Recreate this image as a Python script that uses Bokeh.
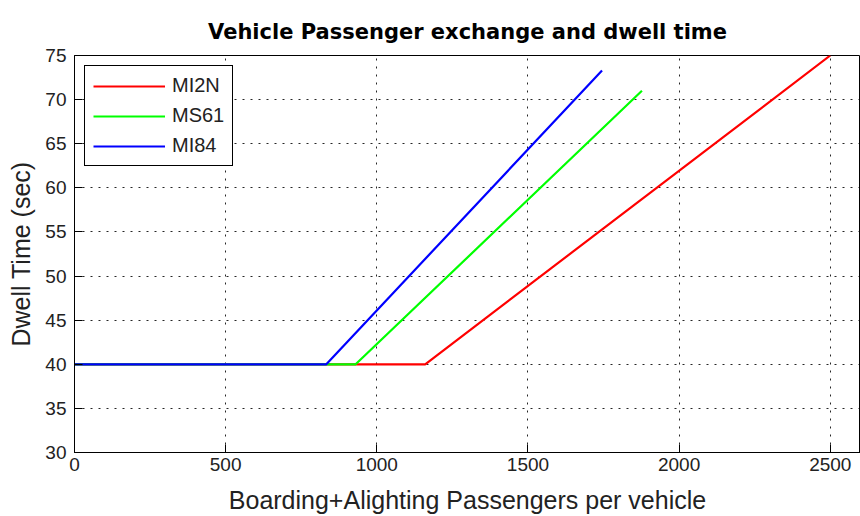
from bokeh.plotting import figure
from bokeh.models import Range1d, Legend, LegendItem, FixedTicker
from bokeh.embed import file_html
from bokeh.resources import INLINE

# Data
mi2n_x = [0, 1160, 2500]
mi2n_y = [40, 40, 75.0]
ms61_x = [0, 930, 1877]
ms61_y = [40, 40, 71.0]
mi84_x = [0, 833, 1745]
mi84_y = [40, 40, 73.3]

x_ticks = [0, 500, 1000, 1500, 2000, 2500]
y_ticks = [30, 35, 40, 45, 50, 55, 60, 65, 70, 75]

FONT = "Liberation Sans"

p = figure(width=860, height=516, output_backend="svg", toolbar_location=None,
           x_range=Range1d(0, 2600), y_range=Range1d(30, 75),
           min_border_left=74, min_border_right=0, min_border_top=55, min_border_bottom=61,
           title="Vehicle Passenger exchange and dwell time")

p.title.text_font = "DejaVu Sans"
p.title.text_font_size = "21px"
p.title.text_font_style = "bold"
p.title.align = "center"
p.title.text_color = "black"
p.title.standoff = 23

p.outline_line_color = "black"
p.outline_line_width = 1
p.outline_line_alpha = 1

for ax in (p.xaxis[0], p.yaxis[0]):
    ax.major_label_text_font = FONT
    ax.major_label_text_font_size = "19px"
    ax.major_label_text_color = "#222222"
    ax.axis_label_text_font = FONT
    ax.axis_label_text_font_size = "25px"
    ax.axis_label_text_font_style = "normal"
    ax.axis_label_text_color = "#222222"
    ax.major_tick_in = 8
    ax.major_tick_out = 0
    ax.minor_tick_in = 0
    ax.minor_tick_out = 0
    ax.axis_line_color = "black"
    ax.major_tick_line_color = "black"

p.xaxis[0].ticker = FixedTicker(ticks=x_ticks)
p.yaxis[0].ticker = FixedTicker(ticks=y_ticks)
p.xaxis[0].axis_label = "Boarding+Alighting Passengers per vehicle"
p.yaxis[0].axis_label = "Dwell Time (sec)"
p.xaxis[0].major_label_standoff = 5
p.xaxis[0].axis_label_standoff = 12
p.yaxis[0].major_label_standoff = 8
p.yaxis[0].axis_label_standoff = 7

for g in (p.xgrid[0], p.ygrid[0]):
    g.grid_line_color = "black"
    g.grid_line_alpha = 0.85
    g.grid_line_dash = "2 6"
    g.grid_line_width = 1
p.xgrid[0].ticker = FixedTicker(ticks=x_ticks)
p.ygrid[0].ticker = FixedTicker(ticks=y_ticks)

r1 = p.line(mi2n_x, mi2n_y, line_color="#ff0000", line_width=2.2)
r2 = p.line(ms61_x, ms61_y, line_color="#00ff00", line_width=2.2)
r3 = p.line(mi84_x, mi84_y, line_color="#0000ff", line_width=2.2)

legend = Legend(items=[LegendItem(label="MI2N", renderers=[r1]),
                       LegendItem(label="MS61", renderers=[r2]),
                       LegendItem(label="MI84", renderers=[r3])],
                location="top_left", margin=10, padding=8, spacing=7,
                glyph_width=72, glyph_height=18, label_height=18, label_standoff=7,
                label_text_font=FONT, label_text_font_size="20px", label_text_color="#222222",
                border_line_color="black", border_line_width=1, border_line_alpha=1,
                background_fill_color="white", background_fill_alpha=1)
p.add_layout(legend, "center")

open("out.html", "w").write(file_html(p, INLINE))
